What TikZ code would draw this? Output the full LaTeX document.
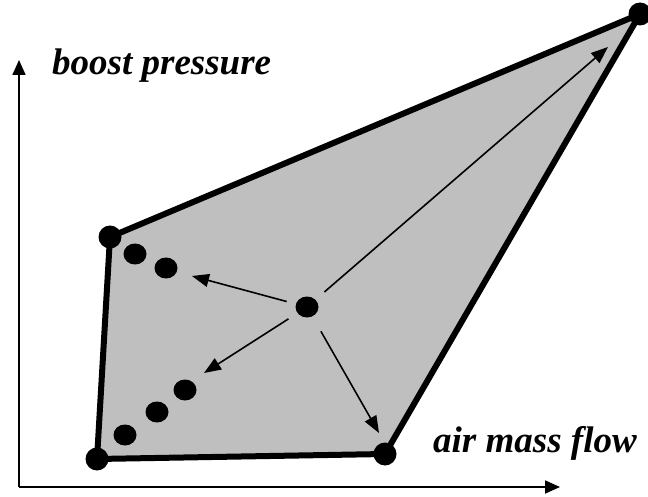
\documentclass[tikz,border=0pt]{standalone}
\usepackage{fontspec}
\setmainfont{Liberation Serif}
\usetikzlibrary{arrows.meta,shapes.geometric}
\begin{document}
\begin{tikzpicture}[x=1pt,y=-1pt,
  dot/.style={fill=black,ellipse,inner sep=0pt,minimum width=23pt,minimum height=21pt},
  vdot/.style={circle,fill=black,inner sep=0pt,minimum size=23pt},
  axis/.style={line width=1.8pt,-{Triangle[length=15pt,width=13pt]}},
  vec/.style={line width=1.6pt,-{Triangle[length=17pt,width=13pt]}},
  lbl/.style={font=\fontsize{37}{42}\selectfont\bfseries\itshape,anchor=base west,inner sep=0pt}]
\useasboundingbox (0,0) rectangle (648,497);
% axes
\coordinate (o) at (19,487);
\coordinate (yt) at (19,60);
\coordinate (xt) at (560,487);
\draw[axis] (o) -- (yt);
\draw[axis] (o) -- (xt);
% polygon
\coordinate (TL) at (110,237);
\coordinate (TR) at (640,14);
\coordinate (BR) at (385,454);
\coordinate (BL) at (97,459);
\filldraw[fill=black!25,line width=6pt,line join=round] (TL) -- (TR) -- (BR) -- (BL) -- cycle;
\node[vdot] (nTL) at (TL) {};
\node[vdot] (nTR) at (TR) {};
\node[vdot] (nBR) at (BR) {};
\node[vdot] (nBL) at (BL) {};
% dots
\node[dot] (d1) at (135,254) {};
\node[dot] (d2) at (166,268) {};
\node[dot] (d3) at (125,435) {};
\node[dot] (d4) at (157,412) {};
\node[dot] (d5) at (185,390) {};
\node[dot] (c) at (307,307) {};
% arrows
\coordinate (t1) at (192,276);
\coordinate (t2) at (204,373);
\coordinate (t3) at (379,433);
\coordinate (t4) at (608,47);
\draw[vec,shorten <=21pt] (c.center) -- (t1);
\draw[vec,shorten <=22pt] (c.center) -- (t2);
\draw[vec,shorten <=28pt] (c.center) -- (t3);
\draw[vec,shorten <=23pt] (c.center) -- (t4);
% labels
\node[lbl] (lb) at (52,75) {boost pressure};
\node[lbl] (la) at (433,452) {air mass flow};
\end{tikzpicture}
\end{document}
